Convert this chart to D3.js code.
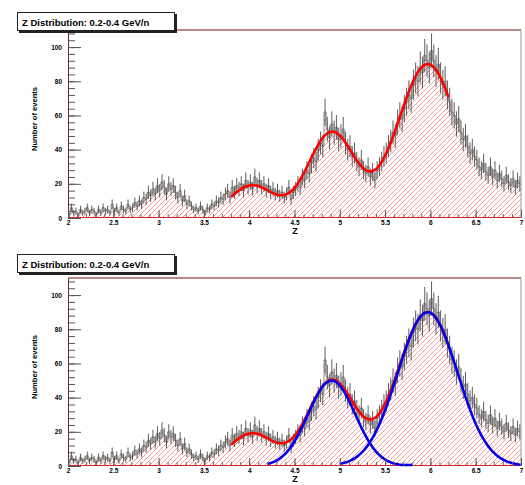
<!DOCTYPE html>
<html>
<head>
<meta charset="utf-8">
<style>
body { margin: 0; background: #fff; }
svg { display: block; }
text { font-family: "Liberation Sans", Arial, sans-serif; font-weight: bold; }
</style>
</head>
<body>
<svg width="525" height="485"></svg>
<script src="https://d3js.org/d3.v7.min.js"></script>
<script>

var title = "Z Distribution: 0.2-0.4 GeV/n";
var xTitle = "Z", yTitle = "Number of events";
var zMin = 2, zMax = 7, binWidth = 0.025;

// bin contents, 20 bins per 0.5 in Z
var counts = [
  2, 6, 3, 4, 2, 5, 3, 4, 6, 3, 5, 4, 2, 5, 3, 6, 4, 5, 3, 8,
  4, 6, 3, 7, 5, 4, 8, 5, 6, 9, 7, 10, 8, 12, 11, 15, 13, 17, 14, 19,
  16, 21, 18, 14, 20, 17, 19, 15, 12, 16, 10, 13, 8, 10, 7, 5, 6, 4, 7, 5,
  3, 6, 5, 8, 7, 10, 9, 12, 11, 14, 16, 12, 18, 15, 19, 17, 20, 16, 22, 18,
  21, 17, 24, 19, 22, 18, 20, 16, 19, 15, 17, 14, 16, 13, 15, 12, 14, 18, 11, 15,
  17, 20, 18, 24, 22, 28, 26, 32, 35, 33, 40, 44, 42, 62, 52, 47, 55, 50, 53, 46,
  48, 52, 44, 40, 42, 36, 38, 33, 30, 34, 28, 26, 30, 24, 27, 22, 28, 30, 33, 36,
  38, 42, 45, 50, 48, 56, 60, 58, 64, 68, 72, 70, 78, 82, 80, 88, 85, 95, 92, 88,
  98, 92, 86, 90, 82, 78, 80, 72, 68, 62, 60, 55, 58, 50, 46, 48, 42, 38, 40, 36,
  34, 30, 28, 32, 27, 25, 30, 24, 28, 22, 26, 23, 20, 25, 21, 19, 23, 18, 22, 20
];

var xTicks = [2, 2.5, 3, 3.5, 4, 4.5, 5, 5.5, 6, 6.5, 7];
var yTicks = [0, 20, 40, 60, 80, 100];

// fitted gaussians: amplitude, mean, sigma
var fitAmp = [19, 50, 90];
var fitMean = [4.03, 4.91, 5.97];
var fitSigma = [0.25, 0.26, 0.33];
var fitRange = [3.8, 6.2];
// components drawn in blue in the lower pad
var compIndex = [1, 2];
var compRange = [[4.2, 5.8], [5.0, 7.0]];

var svg = d3.select("svg");

var defs = svg.append("defs");
defs.append("pattern")
    .attr("id", "hatch")
    .attr("patternUnits", "userSpaceOnUse")
    .attr("width", 5).attr("height", 5)
  .append("path")
    .attr("d", "M-1,1 L1,-1 M0,5 L5,0 M4,6 L6,4")
    .attr("stroke", "#f03030")
    .attr("stroke-opacity", 0.7)
    .attr("stroke-width", 0.7);

function gaus(i, z) {
  var d = (z - fitMean[i]) / fitSigma[i];
  return fitAmp[i] * Math.exp(-0.5 * d * d);
}

function drawPad(top, boxTop, showComponents) {
  var g = svg.append("g");
  var x = d3.scaleLinear().domain([zMin, zMax]).range([68, 521]);
  var y = d3.scaleLinear().domain([0, 110]).range([top + 188, top]);

  var bins = counts.map(function(c, i) { return {z: zMin + i * binWidth, n: c}; });
  var stepPts = bins.concat([{z: zMax, n: counts[counts.length - 1]}]);

  // hatched fill
  g.append("path")
      .datum(stepPts)
      .attr("fill", "url(#hatch)")
      .attr("d", d3.area().curve(d3.curveStepAfter)
        .x(function(d) { return x(d.z); })
        .y0(y(0))
        .y1(function(d) { return y(d.n); }));

  // step outline
  g.append("path")
      .datum(stepPts)
      .attr("fill", "none")
      .attr("stroke", "#666")
      .attr("stroke-width", 0.7)
      .attr("d", d3.line().curve(d3.curveStepAfter)
        .x(function(d) { return x(d.z); })
        .y(function(d) { return y(d.n); }));

  // error bars
  g.selectAll(".err").data(bins).enter().append("line")
      .attr("x1", function(d) { return x(d.z + binWidth / 2); })
      .attr("x2", function(d) { return x(d.z + binWidth / 2); })
      .attr("y1", function(d) { return y(Math.max(0, d.n - Math.sqrt(d.n))); })
      .attr("y2", function(d) { return y(d.n + Math.sqrt(d.n)); })
      .attr("stroke", "#333")
      .attr("stroke-width", 0.8);

  // red edge of the histogram area
  g.append("line").attr("x1", 68).attr("x2", 521).attr("y1", y(0) - 0.5).attr("y2", y(0) - 0.5)
      .attr("stroke", "#e02020").attr("stroke-width", 1.2);

  // total fit
  var fz = d3.range(fitRange[0], fitRange[1] + 0.001, 0.01);
  g.append("path")
      .datum(fz)
      .attr("fill", "none")
      .attr("stroke", "#ff0000")
      .attr("stroke-width", 2.6)
      .attr("d", d3.line()
        .x(function(z) { return x(z); })
        .y(function(z) { return y(gaus(0, z) + gaus(1, z) + gaus(2, z)); }));

  if (showComponents) {
    compIndex.forEach(function(ci, k) {
      var cz = d3.range(compRange[k][0], compRange[k][1] + 0.001, 0.01);
      g.append("path")
          .datum(cz)
          .attr("fill", "none")
          .attr("stroke", "#0000ee")
          .attr("stroke-width", 2.6)
          .attr("d", d3.line()
            .x(function(z) { return x(z); })
            .y(function(z) { return Math.min(y(0) - 1, y(gaus(ci, z))); }));
    });
  }

  // frame
  g.append("line").attr("x1", 68).attr("x2", 521).attr("y1", top).attr("y2", top)
      .attr("stroke", "#7a1010").attr("stroke-width", 1);
  g.append("line").attr("x1", 521).attr("x2", 521).attr("y1", top).attr("y2", y(0))
      .attr("stroke", "#999").attr("stroke-width", 1);

  // y axis
  var yMinor = g.append("g").attr("transform", "translate(68,0)")
      .call(d3.axisLeft(y).tickValues(d3.range(0, 110, 4)).tickSize(-7).tickSizeOuter(0).tickFormat(""));
  yMinor.select(".domain").remove();
  var yAxis = g.append("g").attr("transform", "translate(68,0)")
      .call(d3.axisLeft(y).tickValues(yTicks).tickSize(-13).tickSizeOuter(0).tickPadding(6));
  yAxis.select(".domain").attr("stroke", "#6a2a2a");
  yAxis.selectAll("text").attr("font-size", 6.5).attr("font-family", "Liberation Sans, Arial, sans-serif");
  g.selectAll(".tick line").attr("stroke", "#555");

  // x axis
  var xMinor = g.append("g").attr("transform", "translate(0," + y(0) + ")")
      .call(d3.axisBottom(x).tickValues(d3.range(zMin, zMax + 0.001, 0.1)).tickSize(-4).tickSizeOuter(0).tickFormat(""));
  xMinor.select(".domain").remove();
  xMinor.selectAll("line").attr("stroke", "#666");
  var xAxis = g.append("g").attr("transform", "translate(0," + y(0) + ")")
      .call(d3.axisBottom(x).tickValues(xTicks).tickSize(-8).tickSizeOuter(0).tickPadding(2.5).tickFormat(d3.format("")));
  xAxis.select(".domain").remove();
  xAxis.selectAll("line").attr("stroke", "#555");
  xAxis.selectAll("text").attr("font-size", 6.5).attr("font-family", "Liberation Sans, Arial, sans-serif");

  // axis titles
  g.append("text")
      .attr("x", 295).attr("y", y(0) + 15.5)
      .attr("text-anchor", "middle")
      .attr("font-size", 9)
      .text(xTitle);
  g.append("text")
      .attr("transform", "translate(37," + (top + 89) + ") rotate(-90)")
      .attr("text-anchor", "middle")
      .attr("font-size", 7.6)
      .text(yTitle);

  // title box with shadow
  g.append("rect").attr("x", 19).attr("y", boxTop + 2).attr("width", 158).attr("height", 19).attr("fill", "#222");
  g.append("rect").attr("x", 17.5).attr("y", boxTop + 0.5).attr("width", 157).attr("height", 18)
      .attr("fill", "#fff").attr("stroke", "#222").attr("stroke-width", 1);
  g.append("text")
      .attr("x", 22).attr("y", boxTop + 13.5)
      .attr("font-size", 9.5)
      .text(title);
}

drawPad(30, 12, false);
drawPad(278, 254, true);

</script>
</body>
</html>
